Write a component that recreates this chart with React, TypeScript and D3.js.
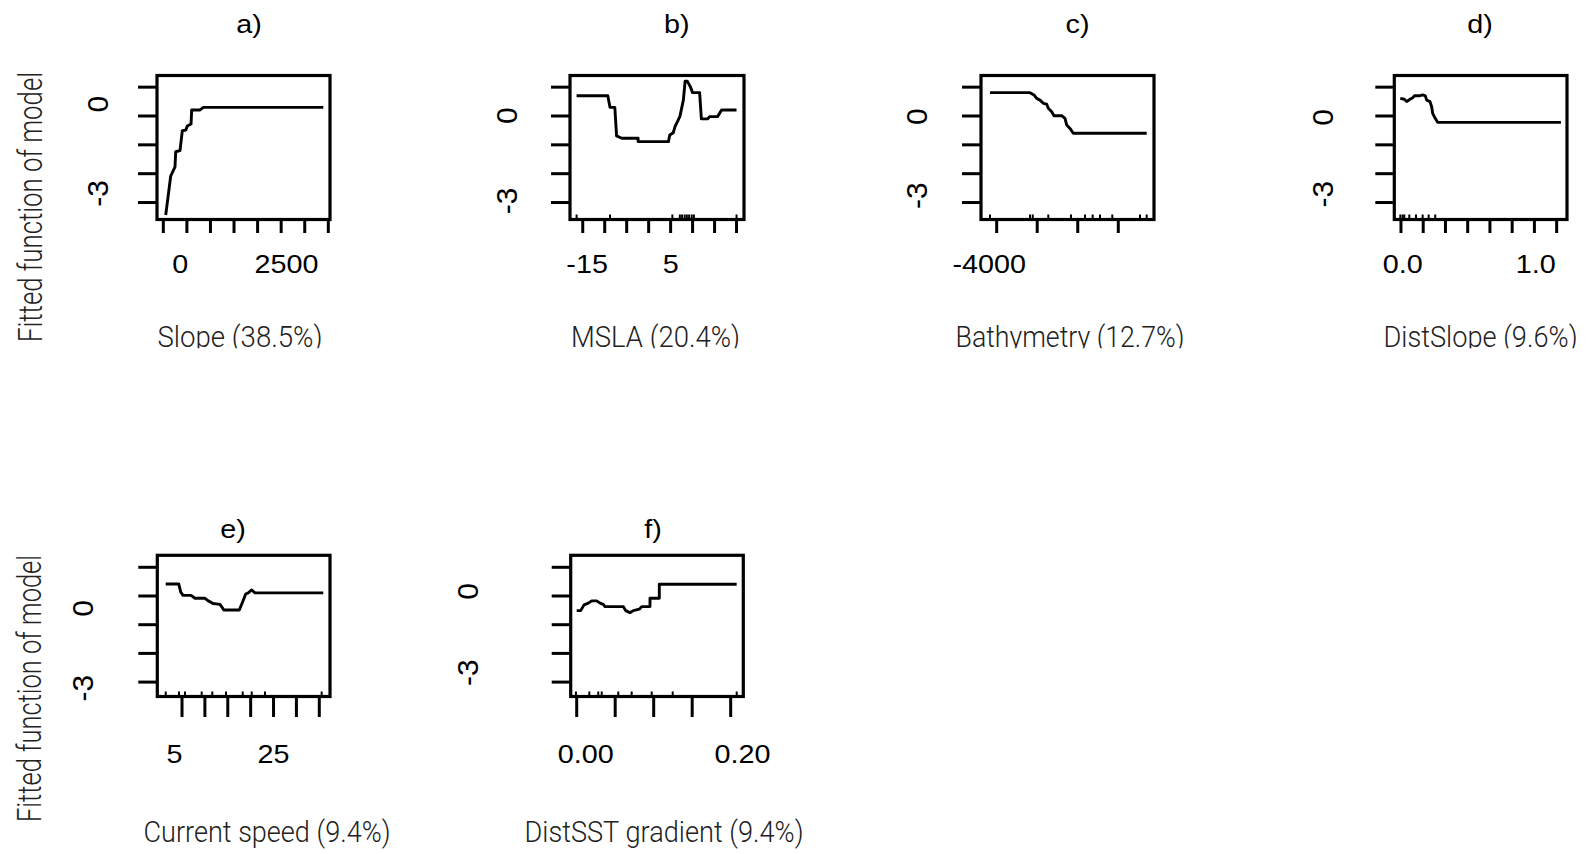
import * as d3 from 'd3';

// partial dependence curves, one small set of arrays per predictor
const PANEL_TITLES = ['a)', 'b)', 'c)', 'd)', 'e)', 'f)'];
const X_TITLES = [
  'Slope (38.5%)', 'MSLA (20.4%)', 'Bathymetry (12.7%)',
  'DistSlope (9.6%)', 'Current speed (9.4%)', 'DistSST gradient (9.4%)',
];
const Y_TITLE = 'Fitted function of model';
const Y_TICKS = [1, 0, -1, -2, -3];
const Y_TICK_TEXT = ['0', '-3'];
const Y_LIM_TOP = [-3.588, 1.404];
const Y_LIM_BOTTOM = [-3.502, 1.418];

// a) Slope
const SLOPE_X = [51, 157, 248, 263, 354, 403, 475, 509, 588, 602, 779, 849, 3394];
const SLOPE_Y = [-3.43, -2.08, -1.76, -1.24, -1.2, -0.51, -0.49, -0.35, -0.28, 0.21, 0.21, 0.3, 0.3];
const SLOPE_LIM = [-134, 3536];
const SLOPE_TICKS = [0, 500, 1000, 1500, 2000, 2500, 3000, 3500];
const SLOPE_TICK_TEXT = ['0', '2500'];
const SLOPE_TICK_TEXT_AT = [361, 2614];
const SLOPE_RUG: number[] = [];
const SLOPE_Y_TEXT_AT = [0.41, -2.68];

// b) MSLA
const MSLA_X = [-16.4, -9.3, -8.8, -7.7, -7.3, -6.1, -2.4, -2.4, 4.5, 4.8, 5.6, 6.0, 6.9, 7.1, 7.9, 8.3, 8.8, 9.5, 10.0, 11.6, 12.0, 13.4, 13.9, 15.7, 16.6, 20.0];
const MSLA_Y = [0.7, 0.7, 0.3, 0.3, -0.69, -0.77, -0.77, -0.89, -0.89, -0.66, -0.58, -0.37, -0.08, -0.02, 0.55, 1.21, 1.21, 1.01, 0.81, 0.81, -0.1, -0.1, -0.02, -0.02, 0.21, 0.21];
const MSLA_LIM = [-17.9, 21.7];
const MSLA_TICKS = [-15, -10, -5, 0, 5, 10, 15, 20];
const MSLA_TICK_TEXT = ['-15', '5'];
const MSLA_TICK_TEXT_AT = [-14, 5];
const MSLA_RUG = [-16.4, -8.8, 5.4, 7.1, 7.6, 8.2, 8.7, 9.2, 9.8, 10.3, 20.0];
const MSLA_Y_TEXT_AT = [0.01, -2.94];

// c) Bathymetry
const BATHY_X = [-4165, -3178, -3080, -3013, -2932, -2850, -2766, -2727, -2643, -2586, -2396, -2315, -2273, -2192, -2110, -299];
const BATHY_Y = [0.81, 0.81, 0.73, 0.61, 0.55, 0.44, 0.41, 0.27, 0.15, 0.01, 0.01, -0.08, -0.31, -0.43, -0.6, -0.6];
const BATHY_LIM = [-4387, -119];
const BATHY_TICKS = [-4000, -3000, -2000, -1000];
const BATHY_TICK_TEXT = ['-4000'];
const BATHY_TICK_TEXT_AT = [-4185];
const BATHY_RUG = [-4165, -3178, -3110, -2727, -2167, -1822, -1632, -1451, -1148, -464, -299];
const BATHY_Y_TEXT_AT = [-0.02, -2.76];

// d) DistSlope
const DSLOPE_X = [-0.006, 0.03, 0.051, 0.081, 0.105, 0.12, 0.165, 0.195, 0.219, 0.231, 0.261, 0.276, 0.285, 0.308, 0.33, 1.439];
const DSLOPE_Y = [0.61, 0.58, 0.5, 0.58, 0.63, 0.7, 0.7, 0.73, 0.7, 0.55, 0.5, 0.32, 0.09, -0.08, -0.22, -0.22];
const DSLOPE_LIM = [-0.06, 1.493];
const DSLOPE_TICKS = [0, 0.2, 0.4, 0.6, 0.8, 1.0, 1.2, 1.4];
const DSLOPE_TICK_TEXT = ['0.0', '1.0'];
const DSLOPE_TICK_TEXT_AT = [0.015, 1.212];
const DSLOPE_RUG = [-0.006, 0.015, 0.03, 0.075, 0.135, 0.195, 0.249, 0.308];
const DSLOPE_Y_TEXT_AT = [-0.05, -2.71];

// e) Current speed
const CURR_X = [1.44, 4.28, 4.72, 5.22, 6.97, 7.84, 10.03, 10.75, 11.77, 13.3, 14.18, 17.52, 18.26, 18.92, 19.49, 20.23, 20.95, 35.87];
const CURR_Y = [0.42, 0.42, 0.14, 0.02, 0.02, -0.08, -0.08, -0.17, -0.26, -0.29, -0.49, -0.49, -0.2, 0.07, 0.11, 0.21, 0.11, 0.11];
const CURR_LIM = [-0.4, 37.34];
const CURR_TICKS = [5, 10, 15, 20, 25, 30, 35];
const CURR_TICK_TEXT = ['5', '25'];
const CURR_TICK_TEXT_AT = [3.36, 25];
const CURR_RUG = [1.44, 4.34, 5.66, 9.3, 11.62, 14.61, 18.26, 20.23, 23.13, 35.52];
const CURR_Y_TEXT_AT = [-0.43, -3.21];

// f) DistSST gradient
const DSST_X = [0, 0.0052, 0.0095, 0.0151, 0.0195, 0.026, 0.0303, 0.0345, 0.0368, 0.0605, 0.0636, 0.0692, 0.0735, 0.0813, 0.0844, 0.0952, 0.0952, 0.1073, 0.1073, 0.2078];
const DSST_Y = [-0.51, -0.51, -0.31, -0.25, -0.17, -0.17, -0.25, -0.29, -0.37, -0.37, -0.51, -0.58, -0.51, -0.46, -0.37, -0.37, -0.08, -0.08, 0.41, 0.41];
const DSST_LIM = [-0.0078, 0.2164];
const DSST_TICKS = [0, 0.05, 0.1, 0.15, 0.2];
const DSST_TICK_TEXT = ['0.00', '0.20'];
const DSST_TICK_TEXT_AT = [0.0118, 0.2153];
const DSST_RUG = [-0.001, 0.0164, 0.028, 0.0325, 0.054, 0.0714, 0.0974, 0.1247, 0.2078];
const DSST_Y_TEXT_AT = [0.16, -2.67];

const PANELS = [
  { x: SLOPE_X, y: SLOPE_Y, lim: SLOPE_LIM, ticks: SLOPE_TICKS, text: SLOPE_TICK_TEXT, textAt: SLOPE_TICK_TEXT_AT, rug: SLOPE_RUG, yTextAt: SLOPE_Y_TEXT_AT },
  { x: MSLA_X, y: MSLA_Y, lim: MSLA_LIM, ticks: MSLA_TICKS, text: MSLA_TICK_TEXT, textAt: MSLA_TICK_TEXT_AT, rug: MSLA_RUG, yTextAt: MSLA_Y_TEXT_AT },
  { x: BATHY_X, y: BATHY_Y, lim: BATHY_LIM, ticks: BATHY_TICKS, text: BATHY_TICK_TEXT, textAt: BATHY_TICK_TEXT_AT, rug: BATHY_RUG, yTextAt: BATHY_Y_TEXT_AT },
  { x: DSLOPE_X, y: DSLOPE_Y, lim: DSLOPE_LIM, ticks: DSLOPE_TICKS, text: DSLOPE_TICK_TEXT, textAt: DSLOPE_TICK_TEXT_AT, rug: DSLOPE_RUG, yTextAt: DSLOPE_Y_TEXT_AT },
  { x: CURR_X, y: CURR_Y, lim: CURR_LIM, ticks: CURR_TICKS, text: CURR_TICK_TEXT, textAt: CURR_TICK_TEXT_AT, rug: CURR_RUG, yTextAt: CURR_Y_TEXT_AT },
  { x: DSST_X, y: DSST_Y, lim: DSST_LIM, ticks: DSST_TICKS, text: DSST_TICK_TEXT, textAt: DSST_TICK_TEXT_AT, rug: DSST_RUG, yTextAt: DSST_Y_TEXT_AT },
];

// page layout (pixels)
const ROWS = [
  { top: 75.5, bottom: 219.5, ylim: Y_LIM_TOP, titleY: 33, tickTextY: 273.3, xTitleY: 347.3, clipY: 348.3, xTickLen: 13.5, yTitleX: 41.5, yTitleCY: 207, yTitleLen: 270 },
  { top: 555.3, bottom: 696.5, ylim: Y_LIM_BOTTOM, titleY: 538, tickTextY: 763.3, xTitleY: 841.5, clipY: 854, xTickLen: 20.5, yTitleX: 40.5, yTitleCY: 688.5, yTitleLen: 267 },
];
const LAYOUT = [
  { row: 0, left: 157, right: 330, titleX: 249, yTextX: 97.5, xTitleX: 240, xTitleLen: 165 },
  { row: 0, left: 570, right: 744, titleX: 676.7, yTextX: 505.7, xTitleX: 655.5, xTitleLen: 169 },
  { row: 0, left: 981, right: 1154, titleX: 1077.5, yTextX: 915.8, xTitleX: 1070, xTitleLen: 229 },
  { row: 0, left: 1394.3, right: 1567, titleX: 1480, yTextX: 1321.7, xTitleX: 1480.5, xTitleLen: 194 },
  { row: 1, left: 157.3, right: 330, titleX: 233, yTextX: 82.5, xTitleX: 267, xTitleLen: 247 },
  { row: 1, left: 570.7, right: 743.3, titleX: 653, yTextX: 466.7, xTitleX: 664, xTitleLen: 279 },
];

const SANS = "'Liberation Sans', Arial, Helvetica, sans-serif";
const LIGHT = "'Liberation Sans Narrow', Roboto, 'Liberation Sans', sans-serif";

function Panel({ i }: { i: number }) {
  const p = PANELS[i];
  const L = LAYOUT[i];
  const R = ROWS[L.row];
  const x = d3.scaleLinear().domain(p.lim).range([L.left, L.right]);
  const y = d3.scaleLinear().domain(R.ylim).range([R.bottom, R.top]);
  const pts = p.x.map((v, k) => [v, p.y[k]] as [number, number]);
  const line = d3.line<[number, number]>().x((d) => x(d[0])).y((d) => y(d[1]));
  const clipId = `clip-${i}`;

  return (
    <g>
      <defs>
        <clipPath id={clipId}>
          <rect x={L.xTitleX - 200} y={R.bottom} width={400} height={R.clipY - R.bottom} />
        </clipPath>
      </defs>
      <text
        transform={`translate(${L.titleX},${R.titleY}) scale(1.15,1)`}
        textAnchor="middle" fontFamily={SANS} fontSize={25} fill="#000"
      >{PANEL_TITLES[i]}</text>

      {/* y axis */}
      {Y_TICKS.map((t) => (
        <line key={t} x1={L.left - 19} x2={L.left} y1={y(t)} y2={y(t)} stroke="#000" strokeWidth={3} />
      ))}
      {Y_TICK_TEXT.map((s, k) => (
        <text
          key={s}
          transform={`translate(${L.yTextX},${y(p.yTextAt[k])}) rotate(-90)`}
          dy="0.36em" textAnchor="middle" fontFamily={SANS} fontSize={30} fill="#000"
        >{s}</text>
      ))}

      {/* x axis */}
      {p.ticks.map((t) => (
        <line key={t} x1={x(t)} x2={x(t)} y1={R.bottom} y2={R.bottom + R.xTickLen} stroke="#000" strokeWidth={3} />
      ))}
      {p.text.map((s, k) => (
        <text
          key={s}
          transform={`translate(${x(p.textAt[k])},${R.tickTextY}) scale(1.15,1)`}
          textAnchor="middle" fontFamily={SANS} fontSize={25} fill="#000"
        >{s}</text>
      ))}
      {p.rug.map((t, k) => (
        <line key={k} x1={x(t)} x2={x(t)} y1={R.bottom} y2={R.bottom - 5} stroke="#000" strokeWidth={2} />
      ))}

      <path d={line(pts) ?? ''} fill="none" stroke="#000" strokeWidth={2.9} strokeLinejoin="round" />
      <rect x={L.left} y={R.top} width={L.right - L.left} height={R.bottom - R.top} fill="none" stroke="#000" strokeWidth={3.2} />

      <g clipPath={`url(#${clipId})`}>
        <text
          x={L.xTitleX} y={R.xTitleY} textAnchor="middle" fontFamily={LIGHT} fontWeight={300}
          fontSize={30} fill="#222" textLength={L.xTitleLen} lengthAdjust="spacingAndGlyphs"
        >{X_TITLES[i]}</text>
      </g>
    </g>
  );
}

export default function App() {
  return (
    <svg width={1586} height={854} style={{ position: 'absolute', left: 0, top: 0, background: '#fff' }}>
      <rect width={1586} height={854} fill="#fff" />
      {ROWS.map((R, r) => (
        <text
          key={r}
          transform={`translate(${R.yTitleX},${R.yTitleCY}) rotate(-90)`}
          textAnchor="middle" fontFamily={LIGHT} fontWeight={300} fontSize={34} fill="#222"
          textLength={R.yTitleLen} lengthAdjust="spacingAndGlyphs"
        >{Y_TITLE}</text>
      ))}
      {PANELS.map((_, i) => <Panel key={i} i={i} />)}
    </svg>
  );
}
